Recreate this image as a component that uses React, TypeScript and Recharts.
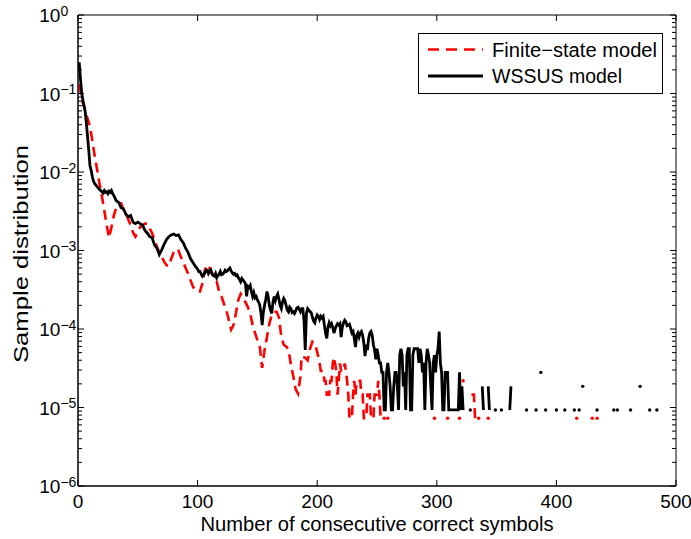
import React from 'react';
import { LineChart, Line, XAxis, YAxis, ReferenceArea, Legend } from 'recharts';

// ---------- data ----------
const X_TICKS = [0, 100, 200, 300, 400, 500];
const Y_MAJOR = [1e-6, 1e-5, 1e-4, 1e-3, 1e-2, 1e-1, 1];
const Y_MINOR_MULTS = [2, 3, 4, 5, 6, 7, 8, 9];
const SERIES_NAMES = ['Finite\u2212state model', 'WSSUS model'];
const X_LABEL = 'Number of consecutive correct symbols';
const Y_LABEL = 'Sample distribution';

const finiteState: [number, number | null][] = [
  [1, 0.13], [2, 0.107], [3, 0.089], [4, 0.076], [5, 0.068], [6, 0.06], [8, 0.048], [10, 0.038],
  [12, 0.025], [14, 0.016], [16, 0.0107], [18, 0.0071], [20, 0.0049], [22, 0.0032], [24, 0.0021],
  [26, 0.00145], [28, 0.002], [30, 0.0028], [32, 0.0035], [34, 0.004], [36, 0.004], [38, 0.0033],
  [40, 0.003], [42, 0.0025], [44, 0.0021], [46, 0.0017], [48, 0.0015], [50, 0.0017], [52, 0.002],
  [54, 0.0021], [56, 0.0022], [58, 0.0022], [60, 0.0019], [62, 0.00166], [64, 0.00135], [66, 0.00112],
  [68, 0.00095], [70, 0.00083], [72, 0.00072], [74, 0.00065], [76, 0.00063], [78, 0.00079], [80, 0.00095],
  [82, 0.00105], [84, 0.001], [86, 0.00083], [88, 0.00071], [90, 0.0006], [92, 0.00051], [94, 0.00042],
  [96, 0.00035], [98, 0.00031], [100, 0.0003], [102, 0.0003], [104, 0.00038], [106, 0.00056], [108, 0.00066],
  [110, 0.0006], [112, 0.00052], [114, 0.00045], [116, 0.0004], [118, 0.0003], [120, 0.00026], [122, 0.00021],
  [124, 0.000174], [126, 0.000132], [128, 0.000098], [130, 0.000112], [132, 0.000158], [134, 0.000234],
  [136, 0.00028], [138, 0.00025], [140, 0.00022], [142, 0.00019], [144, 0.000158], [146, 0.000112],
  [148, 0.000089], [150, 0.000072], [152, 0.000059], [154, 0.000032], [156, 0.000054], [158, 0.000079],
  [160, 0.000117], [162, 0.000151], [164, 0.000166], [166, 0.000166], [168, 0.000141], [170, 0.000079],
  [172, 0.000063], [174, 0.00006], [176, 0.000055], [178, 0.000035], [180, 0.000025], [182, 0.000017],
  [184, 0.000015], [186, 0.000025], [187, 0.000045], [188, 0.000044], [190, 0.000043], [192, 0.00004],
  [194, 0.000056], [196, 0.000069], [198, 0.000066],
  [200, 5.1e-5], [201, 4.38e-5], [202, 3.65e-5], [203, 2.92e-5], [204, 2.92e-5], [205, 2.92e-5],
  [206, 2.19e-5], [207, 2.19e-5], [208, 1.46e-5], [209, 1.46e-5], [210, 1.46e-5], [211, 2.19e-5],
  [212, 2.19e-5], [213, 3.65e-5], [214, 4.38e-5], [215, 3.65e-5], [216, 2.92e-5], [217, 1.46e-5],
  [218, 2.19e-5], [219, 3.65e-5], [220, 2.92e-5], [221, 2.92e-5], [222, 2.92e-5], [223, 3.65e-5],
  [224, 2.92e-5], [225, 2.19e-5], [226, 1.46e-5], [227, 7.3e-6], [228, 7.3e-6], [229, 7.3e-6],
  [230, 1.46e-5], [231, 2.19e-5], [232, 1.46e-5], [233, 2.19e-5], [234, 2.19e-5], [235, 2.19e-5],
  [236, 2.19e-5], [237, 1.46e-5], [238, 1.46e-5], [239, 7.3e-6], [240, 7.3e-6], [241, 7.3e-6],
  [242, 1.46e-5], [243, 1.46e-5], [244, 1.46e-5], [245, 7.3e-6], [246, 7.3e-6], [247, 7.3e-6],
  [248, 1.46e-5], [249, 1.46e-5], [250, 1.46e-5], [251, 2.19e-5], [252, 1.46e-5], [253, 7.3e-6],
  [254, 7.3e-6], [255, null], [256, 7.3e-6], [257, null], [259, 7.3e-6], [260, null],
  [298, 7.3e-6], [299, null], [309, 7.3e-6], [310, null], [319, 7.3e-6], [320, null],
  [322, 2.19e-5], [323, null], [329, 1.46e-5], [330, 1.46e-5], [331, 1.46e-5], [332, 7.3e-6],
  [333, null], [335, 7.3e-6], [336, null], [343, 7.3e-6], [344, null], [417, 7.3e-6], [418, null],
  [430, 7.3e-6], [431, null], [434, 7.3e-6],
];

const wssus: [number, number | null][] = [
  [1, 0.25], [2, 0.158], [3, 0.105], [4, 0.083], [5, 0.071], [6, 0.059], [7, 0.042], [8, 0.028],
  [9, 0.019], [10, 0.012], [11, 0.0105], [12, 0.0087], [13, 0.0076], [14, 0.0071], [16, 0.0065],
  [18, 0.006], [20, 0.0056], [21, 0.0054], [22, 0.0058], [23, 0.0055], [24, 0.0056], [25, 0.0053],
  [26, 0.0057], [27, 0.0055], [28, 0.0058], [29, 0.0053], [30, 0.005], [32, 0.0043], [34, 0.0041],
  [36, 0.0035], [38, 0.0034], [40, 0.0029], [42, 0.0027], [44, 0.0028], [46, 0.0023], [48, 0.0022],
  [50, 0.0023], [52, 0.0022], [54, 0.0021], [56, 0.0018], [58, 0.00166], [60, 0.0015], [62, 0.00145],
  [64, 0.00117], [66, 0.00107], [68, 0.00089], [70, 0.00102], [72, 0.0012], [74, 0.00138], [76, 0.0015],
  [78, 0.00158], [80, 0.00162], [82, 0.00155], [84, 0.00158], [86, 0.00138], [88, 0.00126], [90, 0.00107],
  [92, 0.00095], [94, 0.00079], [96, 0.00071], [98, 0.00063], [100, 0.00058], [101, 0.00054],
  [102, 0.00054], [103, 0.0005], [104, 0.00047], [105, 0.00049], [106, 0.00052], [107, 0.00056],
  [108, 0.00056], [109, 0.00051], [110, 0.00055], [111, 0.00057], [112, 0.0005], [113, 0.00048],
  [114, 0.00047], [115, 0.00051], [116, 0.00045], [117, 0.00048], [118, 0.0005], [119, 0.00054],
  [120, 0.00049], [121, 0.0005], [122, 0.00052], [123, 0.00056], [124, 0.00054], [125, 0.00055],
  [126, 0.00058], [127, 0.0006], [128, 0.00055], [129, 0.00052], [130, 0.0005], [131, 0.00051],
  [132, 0.00048], [133, 0.00049], [134, 0.00045], [135, 0.00043], [136, 0.0004], [137, 0.00044],
  [138, 0.00042], [139, 0.0004], [140, 0.00038], [141, 0.00026], [142, 0.00035], [143, 0.00034],
  [144, 0.00036], [145, 0.0003], [146, 0.00026], [147, 0.00029], [148, 0.00025], [149, 0.00026],
  [150, 0.000234], [151, 0.00022], [152, 0.0002], [153, 0.000158], [154, 0.000112], [155, 0.000166],
  [156, 0.0002], [157, 0.00024], [158, 0.0003], [159, 0.00026], [160, 0.0002], [161, 0.000174],
  [162, 0.000158], [163, 0.00022], [164, 0.00026], [165, 0.00023], [166, 0.00026], [167, 0.00028],
  [168, 0.00024], [169, 0.0002], [170, 0.000182], [171, 0.00022], [172, 0.000245], [173, 0.00023],
  [174, 0.0002], [175, 0.000174], [176, 0.000166], [177, 0.00019], [178, 0.000182], [179, 0.000162],
  [180, 0.000166], [181, 0.000158], [182, 0.00017], [183, 0.000186], [184, 0.00019], [185, 0.000178],
  [186, 0.000166], [187, 0.000182], [188, 0.000182], [189, 0.000126], [190, 0.000054], [191, 0.000158],
  [192, 0.000182], [193, 0.000174], [194, 0.000166], [195, 0.000162], [196, 0.000141], [197, 0.000126],
  [198, 0.00012], [199, 0.000138], [200, 0.000151], [201, 0.000145], [202, 0.000132], [203, 0.000145],
  [204, 0.000138], [205, 0.000145], [206, 0.000112], [207, 0.000089], [208, 0.000076], [209, 0.000105],
  [210, 0.00012], [211, 0.00011], [212, 0.000117], [213, 0.000105], [214, 0.000089], [215, 0.0001],
  [216, 0.00011], [217, 0.000117], [218, 0.000112], [219, 0.000117], [220, 0.000079], [221, 0.000105],
  [222, 0.00012], [223, 0.000129], [224, 0.000123], [225, 0.00011], [226, 0.000112], [227, 0.000115],
  [228, 0.000102], [229, 0.000089], [230, 0.000093], [231, 0.000076], [232, 0.000059], [233, 0.000083],
  [234, 0.000089], [235, 0.000079], [236, 0.000089], [237, 0.000093], [238, 0.000083], [239, 0.000066],
  [240, 0.000045], [241, 0.000063], [242, 0.000054], [243, 0.000076], [244, 0.000089], [245, 0.000093],
  [246, 0.000083], [247, 0.000063], [248, 0.000054], [249, 0.000041],
  [250, 5.6e-5], [251, 4.65e-5], [252, 3.7e-5], [253, 3.7e-5], [254, 2.8e-5], [255, 2.8e-5],
  [256, 9.3e-6], [257, 9.3e-6], [258, 2.8e-5], [259, 3.7e-5], [260, 2.8e-5], [261, 1.86e-5],
  [262, 9.3e-6], [263, 9.3e-6], [264, 1.86e-5], [265, 2.8e-5], [266, 2.8e-5], [267, 1.86e-5],
  [268, 9.3e-6], [269, 4.65e-5], [270, 5.6e-5], [271, 4.65e-5], [272, 1.86e-5], [273, 2.8e-5],
  [274, 9.3e-6], [275, 4.65e-5], [276, 5.6e-5], [277, 5.6e-5], [278, 9.3e-6], [279, 9.3e-6],
  [280, 4.65e-5], [281, 5.6e-5], [282, 5.6e-5], [283, 5.6e-5], [284, 5.6e-5], [285, 3.7e-5],
  [286, 5.6e-5], [287, 4.65e-5], [288, 2.8e-5], [289, 3.7e-5], [290, 9.3e-6], [291, 3.7e-5],
  [292, 5.6e-5], [293, 4.65e-5], [294, 3.7e-5], [295, 1.86e-5], [296, 9.3e-6], [297, 3.7e-5],
  [298, 4.65e-5], [299, 2.8e-5], [300, 4.65e-5], [301, 5.6e-5], [302, 9.3e-5], [303, 3.7e-5],
  [304, 2.8e-5], [305, 9.3e-6], [306, 9.3e-6], [307, 2.8e-5], [308, 2.8e-5], [309, 2.8e-5],
  [310, 9.3e-6], [311, 9.3e-6], [312, 9.3e-6], [313, 9.3e-6], [314, 9.3e-6], [315, 9.3e-6],
  [316, 9.3e-6], [317, 9.3e-6], [318, 9.3e-6], [319, 2.8e-5], [320, 9.3e-6], [321, 1.86e-5],
  [322, 9.3e-6], [323, null], [328, 9.3e-6], [329, null], [338, 1.86e-5], [339, 9.3e-6], [340, null],
  [343, 1.86e-5], [344, 9.3e-6], [345, null], [349, 9.3e-6], [350, null], [354, 9.3e-6], [355, null],
  [361, 9.3e-6], [362, 1.86e-5], [363, null], [375, 9.3e-6], [376, null], [383, 9.3e-6], [384, null],
  [387, 2.8e-5], [388, null], [391, 9.3e-6], [392, null], [400, 9.3e-6], [401, null], [407, 9.3e-6],
  [408, null], [415, 9.3e-6], [416, null], [419, 9.3e-6], [420, null], [422, 1.86e-5], [423, null],
  [434, 9.3e-6], [435, null], [448, 9.3e-6], [449, null], [451, 9.3e-6], [452, null], [462, 9.3e-6],
  [463, null], [470, 1.86e-5], [471, null], [478, 9.3e-6], [479, null], [484, 9.3e-6],
];

// ---------- layout ----------
const W = 691;
const H = 539;
const LEFT = 78;
const TOP = 15;
const RIGHT = 15;
const BOTTOM = 53;
const PW = W - LEFT - RIGHT;
const PH = H - TOP - BOTTOM;
const FONT = '"Liberation Sans", Arial, Helvetica, sans-serif';
const RED = '#ff0000';

const yTicks: number[] = [];
Y_MAJOR.forEach((m, i) => {
  yTicks.push(m);
  if (i < Y_MAJOR.length - 1) Y_MINOR_MULTS.forEach((k) => yTicks.push(m * k));
});

const finiteData = finiteState.map(([x, y]) => ({ x, y }));
const wssusData = wssus.map(([x, y]) => ({ x, y }));

const YTick = (props: any) => {
  const { x, y, payload } = props;
  const v = payload.value;
  const lg = Math.log10(v);
  const e = Math.round(lg);
  const major = Math.abs(lg - e) < 1e-6;
  const len = major ? 6 : 4;
  return (
    <g>
      <line x1={x} x2={x + len} y1={y} y2={y} stroke="#000" strokeWidth={1} />
      <line x1={x + PW} x2={x + PW - len} y1={y} y2={y} stroke="#000" strokeWidth={1} />
      {major && (
        <text x={x - 38.7} y={y + 7} fontSize={19} fontFamily={FONT} fill="#000" textAnchor="start">
          10
          <tspan dy={-6.5} fontSize={14}>{e === 0 ? '0' : '\u2212' + Math.abs(e)}</tspan>
        </text>
      )}
    </g>
  );
};

const XTick = (props: any) => {
  const { x, y, payload } = props;
  return (
    <g>
      <line x1={x} x2={x} y1={y} y2={y - 6} stroke="#000" strokeWidth={1} />
      <line x1={x} x2={x} y1={y - PH} y2={y - PH + 6} stroke="#000" strokeWidth={1} />
      <text x={x} y={y + 21.5} fontSize={19} fontFamily={FONT} fill="#000" textAnchor="middle">
        {payload.value}
      </text>
    </g>
  );
};

const makeDot = (series: [number, number | null][], color: string) => (p: any) => {
  const i = p.index;
  const cur = series[i] ? series[i][1] : null;
  const prev = i > 0 ? series[i - 1][1] : null;
  const next = i < series.length - 1 ? series[i + 1][1] : null;
  if (cur != null && prev == null && next == null && p.cx != null && p.cy != null) {
    return <circle key={`d${i}`} cx={p.cx} cy={p.cy} r={1.7} fill={color} />;
  }
  return <g key={`d${i}`} />;
};

const LegendBox = () => (
  <svg width={246} height={62} style={{ display: 'block', overflow: 'visible' }}>
    <rect x={0.5} y={0.5} width={244} height={60} fill="#fff" stroke="#000" strokeWidth={1} />
    <line x1={10} x2={65} y1={16.5} y2={16.5} stroke={RED} strokeWidth={2.6} strokeDasharray="11 7" />
    <text x={74} y={23.5} fontSize={20} fontFamily={FONT} fill="#000" textLength={165} lengthAdjust="spacingAndGlyphs">
      {SERIES_NAMES[0]}
    </text>
    <line x1={10} x2={65} y1={43} y2={43} stroke="#000" strokeWidth={2.8} />
    <text x={74} y={50} fontSize={20} fontFamily={FONT} fill="#000" textLength={130} lengthAdjust="spacingAndGlyphs">
      {SERIES_NAMES[1]}
    </text>
  </svg>
);

export default function App() {
  return (
    <div style={{ position: 'absolute', left: 0, top: 0, width: W, height: H, background: '#fff' }}>
      <LineChart width={W} height={H} margin={{ top: TOP, right: RIGHT, bottom: 0, left: 0 }}>
        <XAxis
          type="number"
          dataKey="x"
          domain={[0, 500]}
          ticks={X_TICKS}
          interval={0}
          allowDataOverflow
          height={BOTTOM}
          tickSize={0}
          tickMargin={0}
          tickLine={false}
          axisLine={{ stroke: '#000', strokeWidth: 1 }}
          tick={<XTick />}
          label={() => (
            <text
              x={LEFT + PW / 2}
              y={531}
              fontSize={20}
              fontFamily={FONT}
              fill="#000"
              textAnchor="middle"
              textLength={353}
              lengthAdjust="spacingAndGlyphs"
            >
              {X_LABEL}
            </text>
          )}
        />
        <YAxis
          type="number"
          scale="log"
          domain={[1e-6, 1]}
          ticks={yTicks}
          interval={0}
          allowDataOverflow
          width={LEFT}
          tickSize={0}
          tickMargin={0}
          tickLine={false}
          axisLine={{ stroke: '#000', strokeWidth: 1 }}
          tick={<YTick />}
          label={() => (
            <text
              x={28}
              y={254}
              fontSize={21}
              fontFamily={FONT}
              fill="#000"
              textAnchor="middle"
              textLength={218}
              lengthAdjust="spacingAndGlyphs"
              transform="rotate(-90, 28, 254)"
            >
              {Y_LABEL}
            </text>
          )}
        />
        <ReferenceArea x1={0} x2={500} y1={1e-6} y2={1} fill="none" stroke="#000" strokeWidth={1} />
        <Line
          data={finiteData}
          dataKey="y"
          name={SERIES_NAMES[0]}
          stroke={RED}
          strokeWidth={2.6}
          strokeDasharray="10 6"
          connectNulls={false}
          dot={makeDot(finiteState, RED)}
          activeDot={false}
          isAnimationActive={false}
        />
        <Line
          data={wssusData}
          dataKey="y"
          name={SERIES_NAMES[1]}
          stroke="#000"
          strokeWidth={2.8}
          connectNulls={false}
          dot={makeDot(wssus, '#000')}
          activeDot={false}
          isAnimationActive={false}
        />
        <Legend
          layout="horizontal"
          verticalAlign="middle"
          align="center"
          wrapperStyle={{ left: 418, top: 33, width: 246, height: 62 }}
          content={() => <LegendBox />}
        />
      </LineChart>
    </div>
  );
}
